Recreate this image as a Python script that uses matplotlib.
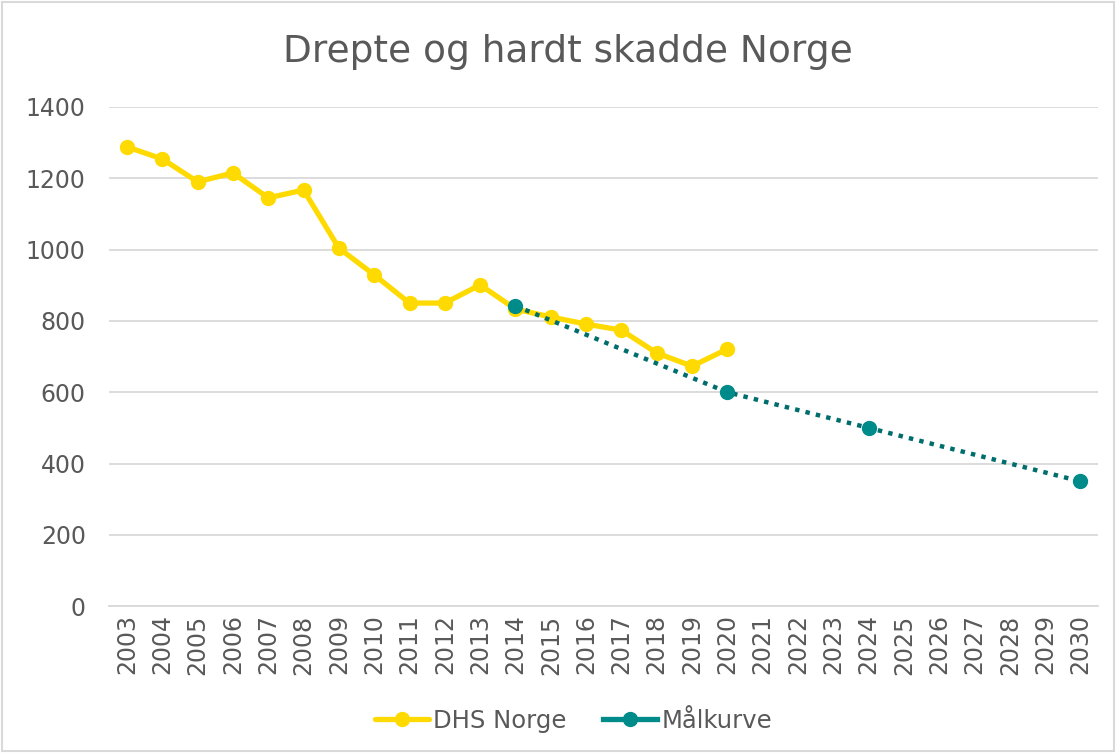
import matplotlib.pyplot as plt
from matplotlib.patches import Rectangle

years = list(range(2003, 2031))
dhs_years = list(range(2003, 2021))
dhs_values = [1288, 1254, 1190, 1215, 1145, 1167, 1004, 929, 850, 850,
              901, 833, 811, 791, 774, 710, 673, 721]
maal_years = [2014, 2020, 2024, 2030]
maal_values = [842, 600, 500, 350]

yellow = '#FFDA00'
teal = '#008B8B'
teal_line = '#006D6D'
txt = '#595959'

plt.rcParams['font.family'] = ['DejaVu Sans']

fig = plt.figure(figsize=(11.16, 7.53), dpi=100)
ax = fig.add_axes([0.098, 0.195, 0.886, 0.663])

x_dhs = [years.index(y) for y in dhs_years]
x_maal = [years.index(y) for y in maal_years]

ax.plot(x_dhs, dhs_values, color=yellow, lw=3.8, marker='o', ms=10,
        label='DHS Norge', zorder=3, solid_capstyle='round')
ax.plot(x_maal, maal_values, color=teal_line, lw=3.2, ls=(0, (1, 1.4)),
        zorder=4)
ax.plot(x_maal, maal_values, color=teal, lw=0, marker='o', ms=10, zorder=5)
# legend proxy
ax.plot([], [], color=teal, lw=3.8, marker='o', ms=10, label='Målkurve')

ax.set_xlim(-0.5, len(years) - 0.5)
ax.set_ylim(0, 1400)
ax.set_yticks(range(0, 1401, 200))
ax.set_xticks(range(len(years)))
ax.set_xticklabels([str(y) for y in years], rotation=90)
ax.tick_params(axis='both', labelsize=17, colors=txt, length=0)
ax.tick_params(axis='y', pad=17)
ax.tick_params(axis='x', pad=6)
ax.yaxis.grid(True, color='#D9D9D9', lw=1.3)
ax.set_axisbelow(True)
for s in ['top', 'right', 'left']:
    ax.spines[s].set_visible(False)
ax.spines['bottom'].set_color('#D9D9D9')
ax.spines['bottom'].set_linewidth(1.3)

fig.suptitle('Drepte og hardt skadde Norge', fontsize=27, color=txt,
             x=0.509, y=0.955)

handles, labels = ax.get_legend_handles_labels()
fig.legend(handles, labels, loc='center', bbox_to_anchor=(0.514, 0.043),
           ncol=2, frameon=False, fontsize=17.5, labelcolor=txt,
           handlelength=2.2, handletextpad=0.2, columnspacing=1.5)

fig.patches.append(Rectangle((0.002, 0.002), 0.996, 0.996,
                             transform=fig.transFigure, fill=False,
                             edgecolor='#D9D9D9', lw=1.5))

fig.savefig('out.png', dpi=100)
